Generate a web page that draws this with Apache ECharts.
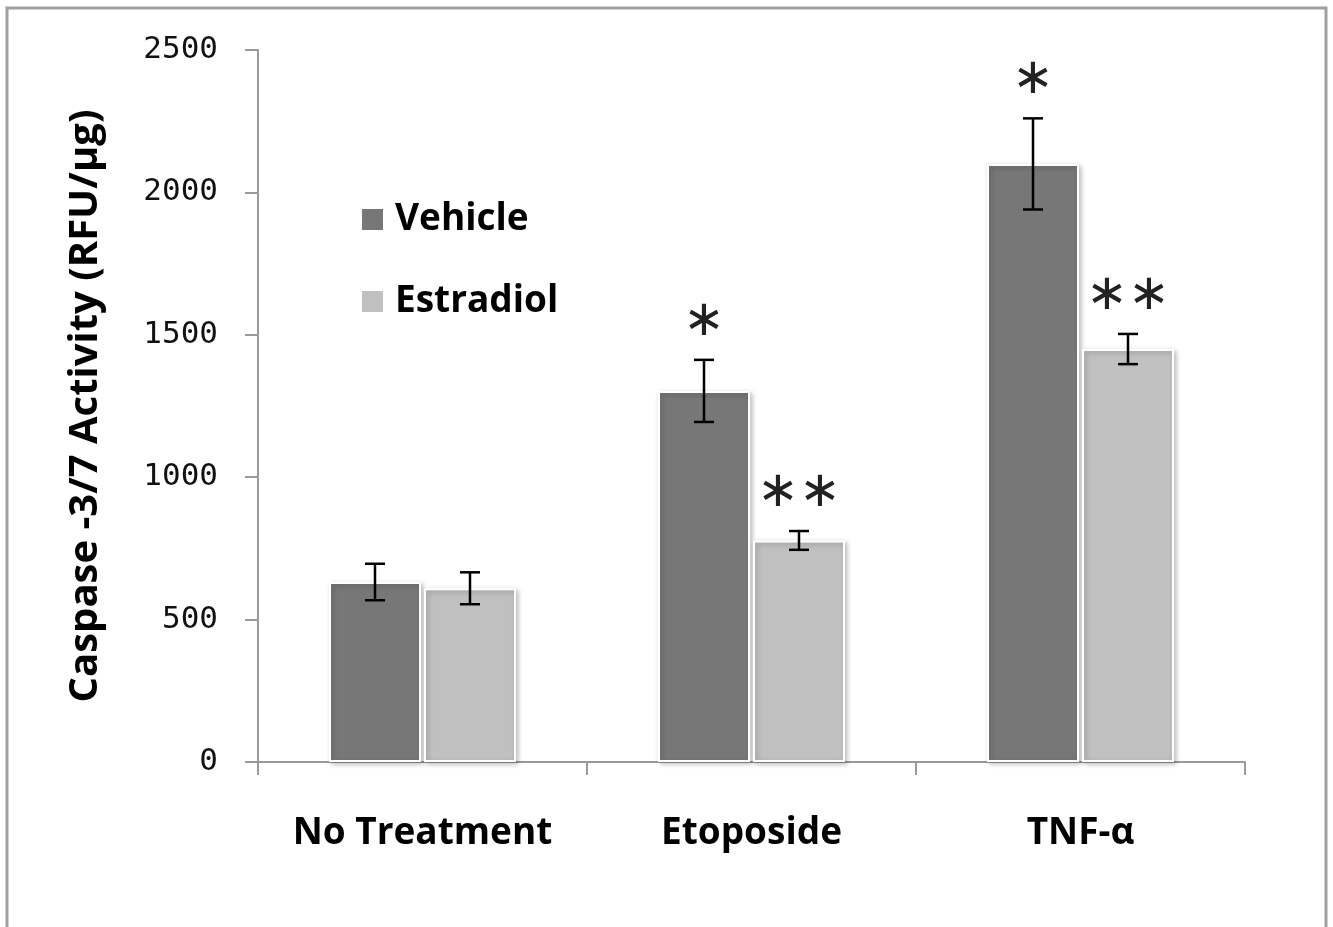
<!DOCTYPE html>
<html>
<head>
<meta charset="utf-8">
<script src="https://cdn.jsdelivr.net/npm/echarts@6/dist/echarts.min.js"></script>
<style>
html,body{margin:0;padding:0;background:#fff;}
#chart{width:1333px;height:927px;}
</style>
</head>
<body>
<div id="chart"></div>
<script>
const categories = ['No Treatment', 'Etoposide', 'TNF-\u03b1'];
const seriesNames = ['Vehicle', 'Estradiol'];
const vehicle = [632, 1303, 2100];
const estradiol = [610, 778, 1450];
const vehicleErr = [64, 109, 160];
const estradiolErr = [56, 33, 53];
const vehicleSig = ['', '\u2217', '\u2217'];
const estradiolSig = ['', '\u2217\u2217', '\u2217\u2217'];
const yTicks = [0, 500, 1000, 1500, 2000, 2500];

const BAR_W = 92;
const BAR_GAP_PX = 3;
const colors = ['#777777', '#c0c0c0'];

function errSeries(values, errs, sigs, side) {
  return {
    type: 'custom',
    z: 5,
    silent: true,
    data: values.map((v, i) => [i, v, errs[i]]),
    renderItem: function (params, api) {
      const i = api.value(0), v = api.value(1), e = api.value(2);
      const sig = sigs[i];
      const c = api.coord([i, v]);
      const x = c[0] + side * (BAR_W + BAR_GAP_PX) / 2;
      const yt = api.coord([i, v + e])[1];
      const yb = api.coord([i, v - e])[1];
      const cap = 10;
      const st = { stroke: '#000', lineWidth: 2.5 };
      const children = [
        { type: 'line', shape: { x1: x, y1: yt, x2: x, y2: yb }, style: st },
        { type: 'line', shape: { x1: x - cap, y1: yt, x2: x + cap, y2: yt }, style: st },
        { type: 'line', shape: { x1: x - cap, y1: yb, x2: x + cap, y2: yb }, style: st }
      ];
      if (sig) {
        children.push({
          type: 'text',
          style: {
            x: x, y: yt - 38, text: sig,
            align: 'center', verticalAlign: 'middle',
            fontFamily: 'DejaVu Sans', fontSize: 50, fill: '#222'
          }
        });
      }
      return { type: 'group', children: children };
    }
  };
}

const chart = echarts.init(document.getElementById('chart'), null, { renderer: 'canvas' });
chart.setOption({
  backgroundColor: '#fff',
  animation: false,
  graphic: [{
    type: 'rect', silent: true,
    shape: { x: 7, y: 8, width: 1319, height: 940 },
    style: { fill: 'none', stroke: '#a0a0a0', lineWidth: 3 }
  }],
  grid: { left: 258, right: 88, top: 50, bottom: 165, containLabel: false },
  legend: {
    orient: 'vertical',
    left: 355, top: 196,
    itemWidth: 23, itemHeight: 23, itemGap: 45,
    icon: 'rect',
    data: seriesNames,
    textStyle: { fontFamily: 'Open Sans', fontWeight: 'bold', fontSize: 37, color: '#000', padding: [0, 0, 0, 6] }
  },
  xAxis: {
    type: 'category',
    data: categories,
    axisLine: { lineStyle: { color: '#9a9a9a', width: 2 } },
    axisTick: { show: true, interval: 0, length: 13, lineStyle: { color: '#9a9a9a', width: 2 } },
    axisLabel: { interval: 0, hideOverlap: false, margin: 53, fontFamily: 'Open Sans', fontWeight: 'bold', fontSize: 37, color: '#000' },
    splitLine: { show: false }
  },
  yAxis: {
    type: 'value',
    min: 0, max: 2500, interval: 500,
    name: 'Caspase -3/7 Activity (RFU/\u00b5g)',
    nameLocation: 'middle',
    nameGap: 152,
    nameRotate: 90,
    nameTextStyle: { fontFamily: 'Open Sans', fontWeight: 'bold', fontSize: 40, color: '#000' },
    axisLine: { show: true, lineStyle: { color: '#9a9a9a', width: 2 } },
    axisTick: { show: true, length: 13, lineStyle: { color: '#9a9a9a', width: 2 } },
    axisLabel: {
      margin: 40, fontFamily: 'DejaVu Sans Mono', fontSize: 31, color: '#111',
      formatter: function (v) { return yTicks.indexOf(v) >= 0 ? String(v) : ''; }
    },
    splitLine: { show: false }
  },
  series: [
    {
      name: seriesNames[0], type: 'bar', data: vehicle,
      barWidth: BAR_W, barGap: (BAR_GAP_PX / BAR_W * 100) + '%',
      itemStyle: { color: colors[0], borderColor: '#fff', borderWidth: 2,
        shadowBlur: 5, shadowColor: 'rgba(0,0,0,0.25)', shadowOffsetX: 2, shadowOffsetY: 2 }
    },
    {
      name: seriesNames[1], type: 'bar', data: estradiol,
      barWidth: BAR_W,
      itemStyle: { color: colors[1], borderColor: '#fff', borderWidth: 2,
        shadowBlur: 5, shadowColor: 'rgba(0,0,0,0.25)', shadowOffsetX: 2, shadowOffsetY: 2 }
    },
    errSeries(vehicle, vehicleErr, vehicleSig, -1),
    errSeries(estradiol, estradiolErr, estradiolSig, 1)
  ]
});
</script>
</body>
</html>
